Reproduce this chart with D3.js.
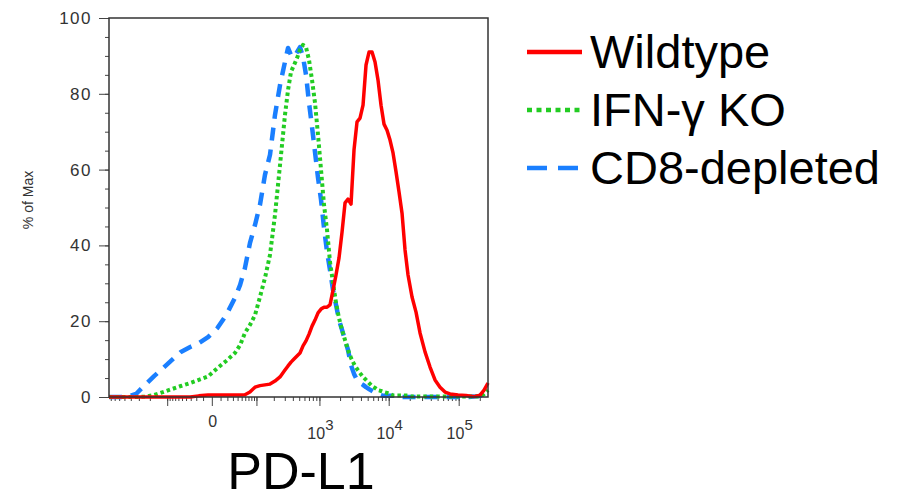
<!DOCTYPE html>
<html>
<head>
<meta charset="utf-8">
<script src="https://cdn.jsdelivr.net/npm/d3@7"></script>
<style>
  body { margin: 0; background: #fff; }
  text { font-family: "Liberation Sans", Arial, sans-serif; }
</style>
</head>
<body>
<div class="pdl1-plot"></div>
<script>
// PD-L1 histogram, values (x = fluorescence, y = % of max)
var pdl1 = [-850, -625, -457, -332, -239, -170, -119, -81, -53, -31, -16, -4, 6, 18, 34, 46, 59, 75, 94,
  116, 142, 173, 209, 252, 302, 337, 375, 417, 463, 514, 571, 633, 702, 778, 861, 954, 1056, 1168,
  1292, 1429, 1580, 1747, 1931, 2135, 2359, 2606, 2879, 3180, 3513, 3880, 4286, 4733, 5226, 5771,
  6373, 7036, 7768, 8575, 9467, 10450, 11540, 12740, 14060, 15520, 17130, 18910, 21570, 24600,
  28070, 33080, 38990, 45950, 54160, 63830, 75230, 97920, 127400, 165750, 201900, 230300, 262144];

var wildtype = [0, 0, 0, 0, 0, 0, 0, 0, 0, 0, 0.3, 0.5, 0.5, 0.5, 0.5, 0.5, 0.6, 1.3, 2.6,
  3.0, 3.2, 3.4, 4.2, 5.3, 7.1, 8.2, 9.2, 10.0, 10.8, 11.6, 13.5, 14.8, 16.6, 18.7, 20.3, 22.2, 23.2, 23.7,
  23.7, 24.3, 28.2, 32.2, 36.7, 43.5, 51.2, 52.2, 50.9, 65.2, 72.6, 73.6, 77.0, 87.6, 91.0, 91.0,
  88.4, 83.6, 77.0, 72.0, 70.4, 67.8, 64.4, 59.4, 54.1, 48.5, 38.8, 32.2, 26.4, 22.4,
  16.9, 11.9, 7.9, 4.5, 2.6, 1.3, 0.8, 0.5, 0.4, 0.1, 0.5, 1.8, 3.7];

var ifngKO = [0, 0, 0, 0, 0.1, 0.5, 1.3, 2.1, 2.9, 3.7, 4.5, 5.4, 7.6, 9.5, 11.6, 13.7, 16.9, 19.0, 21.6,
  26.4, 31.4, 37.5, 48.0, 61.2, 74.4, 81.0, 85.8, 87.6, 89.4, 91.6, 92.9, 92.3, 88.9, 83.6, 77.6, 69.1, 59.9, 50.7,
  44.1, 35.6, 30.1, 24.8, 20.8, 17.7, 15.0, 12.4, 10.3, 8.7, 7.4, 6.3, 5.3, 4.5, 3.7, 2.9,
  2.4, 1.8, 1.6, 1.3, 1.1, 0.8, 0.4, 0.4, 0.4, 0.4, 0.4, 0.4, 0.1, 0.1,
  0.1, 0.1, 0.1, 0.1, 0.1, 0.1, 0.1, 0.1, 0.1, 0.1, 0.1, 0.8, 1.8];

var cd8Depleted = [0, 0, 0, 0.8, 3.2, 5.5, 7.6, 9.8, 11.9, 13.2, 14.2, 15.8, 18.2, 21.6, 26.1, 29.6, 34.0, 40.6, 45.4,
  50.7, 58.6, 63.9, 74.4, 82.3, 88.4, 92.1, 90.2, 89.7, 91.0, 92.3, 89.7, 85.0, 77.6, 71.2, 64.6, 57.8, 52.0, 44.6,
  38.3, 33.5, 28.2, 24.3, 20.3, 17.7, 15.0, 12.4, 8.4, 6.1, 4.5, 3.7, 3.2, 2.6, 2.1, 1.6,
  1.1, 0.8, 0.5, 0.3, 0.3, 0.3, 0.3, 0.3, 0, 0, 0, 0, 0, 0,
  0, 0, 0, 0, 0, 0, 0, 0, 0, 0.1, 0.3, 1.1, 2.1];

var seriesNames = ["Wildtype", "IFN-\u03b3 KO", "CD8-depleted"];
var yTicks = [0, 20, 40, 60, 80, 100];
var xLabelTicks = [0, 1000, 10000, 100000];
var xLabelExp = ["", "3", "4", "5"];
var xLongTicks = [-100, 0, 100, 1000, 10000, 100000];

var colors = ["#ff0000", "#22cc22", "#1a7fff"];
var dashes = [null, "3.5,3", "13,9"];
var widths = [3.5, 4, 4.5];

var margin = {top: 18, left: 109},
  width = 379,
  height = 379;

var svg = d3.select(".pdl1-plot").append("svg")
  .attr("width", 900)
  .attr("height", 501);

var g = svg.append("g")
  .attr("transform", "translate(" + margin.left + "," + margin.top + ")");

// logicle-ish axis, symlog is the nearest thing d3 has
var x = d3.scaleSymlog()
  .constant(30)
  .domain([-850, 262144])
  .range([0, width]);
var y = d3.scaleLinear()
  .domain([0, 100])
  .range([height, 0]);

// minor x ticks: 1..9 times each decade, both sides of zero
var xMinor = [];
[10, 100, 1000, 10000, 100000].forEach(function(dec) {
  for (var k = 1; k <= 9; k++) {
    var v = k * dec;
    if (v <= 262144) xMinor.push(v);
    if (-v >= -850) xMinor.push(-v);
  }
});

var xMinorAxis = g.append("g")
  .attr("transform", "translate(0," + height + ")")
  .call(d3.axisBottom(x).tickValues(xMinor).tickSize(4).tickFormat(""));
var xMajorAxis = g.append("g")
  .attr("transform", "translate(0," + height + ")")
  .call(d3.axisBottom(x).tickValues(xLongTicks).tickSize(9).tickFormat(""));

var yMinorAxis = g.append("g")
  .call(d3.axisLeft(y).tickValues(d3.range(0, 101, 5)).tickSize(4).tickFormat(""));
var yAxis = g.append("g")
  .call(d3.axisLeft(y).tickValues(yTicks).tickSize(10).tickPadding(7));

g.selectAll(".domain").remove();
g.selectAll(".tick line").attr("stroke", "#444").attr("stroke-width", 1);
yAxis.selectAll("text")
  .attr("font-size", 17)
  .attr("letter-spacing", 1.5)
  .attr("fill", "#333");

// x labels, 10 with a raised exponent
xLabelTicks.forEach(function(v, i) {
  var t = g.append("text")
    .attr("x", x(v) + 1)
    .attr("y", height + (v === 0 ? 30 : 42))
    .attr("text-anchor", "middle")
    .attr("font-size", 16)
    .attr("fill", "#333");
  if (v === 0) {
    t.text("0");
  } else {
    t.append("tspan").text("10");
    t.append("tspan").attr("dy", -9).attr("font-size", 15).text(xLabelExp[i]);
  }
});

// curves
var line = d3.line()
  .x(function(d, i) { return x(pdl1[i]); })
  .y(function(d) { return y(d); });

var allSeries = [cd8Depleted, ifngKO, wildtype];
var order = [2, 1, 0];
allSeries.forEach(function(s, j) {
  var k = order[j];
  g.append("path")
    .datum(s)
    .attr("fill", "none")
    .attr("stroke", colors[k])
    .attr("stroke-width", widths[k])
    .attr("stroke-dasharray", dashes[k])
    .attr("stroke-linejoin", "round")
    .attr("d", line);
});

// frame
g.append("rect")
  .attr("width", width)
  .attr("height", height)
  .attr("fill", "none")
  .attr("stroke", "#333")
  .attr("stroke-width", 1.5);

// axis titles
svg.append("text")
  .attr("transform", "translate(33,200) rotate(-90)")
  .attr("text-anchor", "middle")
  .attr("font-size", 14)
  .attr("fill", "#333")
  .text("% of Max");

svg.append("text")
  .attr("x", 301)
  .attr("y", 489)
  .attr("text-anchor", "middle")
  .attr("font-size", 52)
  .attr("fill", "#000")
  .text("PD-L1");

// legend
var legDash = [null, "5,4.5", "20,11"];
var legend = svg.append("g").attr("class", "legend");
seriesNames.forEach(function(name, i) {
  var ly = 52 + i * 58;
  legend.append("line")
    .attr("x1", 527).attr("x2", 582)
    .attr("y1", ly).attr("y2", ly)
    .attr("stroke", colors[i])
    .attr("stroke-width", 4.5)
    .attr("stroke-dasharray", legDash[i]);
  legend.append("text")
    .attr("x", 590)
    .attr("y", ly + 16)
    .attr("font-size", 47)
    .attr("fill", "#000")
    .text(name);
});
</script>
</body>
</html>
